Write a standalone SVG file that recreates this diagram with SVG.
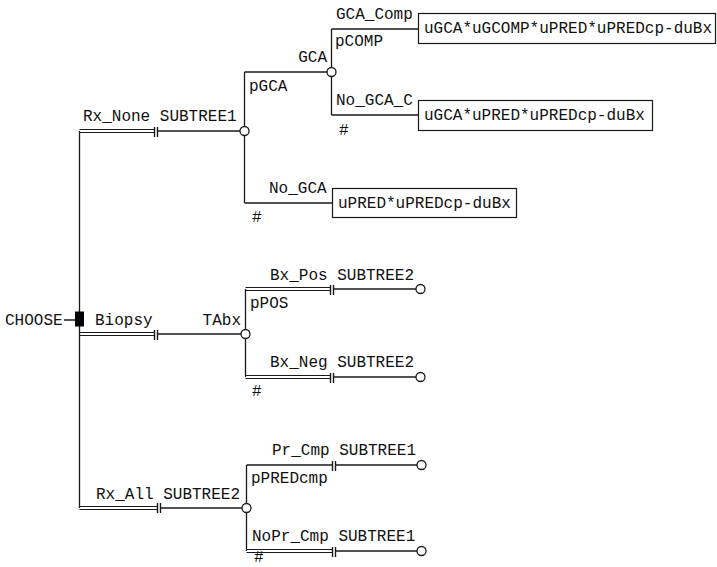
<svg xmlns="http://www.w3.org/2000/svg" width="717" height="567" viewBox="0 0 717 567">
<style>
text{font-family:"Liberation Mono","Courier New",monospace;font-size:16px;fill:#111}
.ln{stroke:#1a1a1a;stroke-width:1.3;fill:none}
.dbl{stroke:#1a1a1a;stroke-width:1;fill:none}
.hash{stroke:#1a1a1a;stroke-width:1.4;fill:none}
.chance{fill:#fff;stroke:#1a1a1a;stroke-width:1.3}
.box{fill:#fff;stroke:#1a1a1a;stroke-width:1.2}
</style>
<rect width="717" height="567" fill="#fff"/>
<g id="connectors">
  <path class="ln" d="M64 320H75 M79.5 131V508"/>
  <path class="dbl" d="M79.5 129.5H154 M79.5 132.5H154"/>
  <path class="hash" d="M154.5 127V137 M157.5 127V137"/>
  <path class="ln" d="M157.5 131H240"/>
  <path class="dbl" d="M79.5 332.5H154 M79.5 335.5H154"/>
  <path class="hash" d="M154.5 330V340 M157.5 330V340"/>
  <path class="ln" d="M157.5 334H241"/>
  <path class="dbl" d="M79.5 506.5H157 M79.5 509.5H157"/>
  <path class="hash" d="M157.5 503V513 M160.5 503V513"/>
  <path class="ln" d="M160.5 508H242"/>
  <path class="ln" d="M244.5 72V203 M244.5 72H327 M244.5 203H332"/>
  <path class="ln" d="M331.5 29V115 M331.5 29H418 M331.5 115H418"/>
  <path class="ln" d="M245.5 289V377"/>
  <path class="dbl" d="M245.5 287.5H330 M245.5 290.5H330"/>
  <path class="hash" d="M330.5 285V295 M333.5 285V295"/>
  <path class="ln" d="M333.5 289H416"/>
  <path class="dbl" d="M245.5 375.5H330 M245.5 378.5H330"/>
  <path class="hash" d="M330.5 373V383 M333.5 373V383"/>
  <path class="ln" d="M333.5 377H416"/>
  <path class="ln" d="M246.5 465V551 M246.5 465H332"/>
  <path class="hash" d="M332.5 461V471 M335.5 461V471"/>
  <path class="ln" d="M335.5 465H417"/>
  <path class="dbl" d="M246.5 549.5H332 M246.5 552.5H332"/>
  <path class="hash" d="M332.5 547V557 M335.5 547V557"/>
  <path class="ln" d="M335.5 551H417"/>
</g>
<g id="root">
  <text x="5" y="325">CHOOSE</text>
  <rect x="75" y="311.5" width="9" height="15" fill="#000"/>
</g>
<g id="rx_none">
  <text x="83" y="121">Rx_None SUBTREE1</text>
  <circle class="chance" cx="244.5" cy="131" r="4.5"/>
  <text x="249" y="91">pGCA</text>
</g>
<g id="gca">
  <text x="327" y="62" text-anchor="end">GCA</text>
  <circle class="chance" cx="331.5" cy="72" r="4.5"/>
  <text x="336" y="19">GCA_Comp</text>
  <text x="335" y="46">pCOMP</text>
  <text x="336" y="105">No_GCA_C</text>
  <text x="339" y="135">#</text>
</g>
<g id="term_gca_comp">
  <rect class="box" x="418.5" y="13.5" width="297" height="30"/>
  <text x="424" y="33">uGCA*uGCOMP*uPRED*uPREDcp-duBx</text>
</g>
<g id="term_no_gca_c">
  <rect class="box" x="418.5" y="100.5" width="234" height="30"/>
  <text x="424" y="120">uGCA*uPRED*uPREDcp-duBx</text>
</g>
<g id="no_gca">
  <text x="269" y="193">No_GCA</text>
  <text x="252" y="222">#</text>
  <rect class="box" x="332.5" y="188.5" width="184" height="29"/>
  <text x="338" y="208">uPRED*uPREDcp-duBx</text>
</g>
<g id="biopsy">
  <text x="95" y="325">Biopsy</text>
  <text x="241" y="325" text-anchor="end">TAbx</text>
  <circle class="chance" cx="245.5" cy="334" r="4.5"/>
  <text x="250" y="308">pPOS</text>
</g>
<g id="bx_pos">
  <text x="270" y="280">Bx_Pos SUBTREE2</text>
  <circle class="chance" cx="420.5" cy="289" r="4.5"/>
</g>
<g id="bx_neg">
  <text x="270" y="367">Bx_Neg SUBTREE2</text>
  <text x="252" y="396">#</text>
  <circle class="chance" cx="420.5" cy="377" r="4.5"/>
</g>
<g id="rx_all">
  <text x="96" y="499">Rx_All SUBTREE2</text>
  <circle class="chance" cx="246.5" cy="508" r="4.5"/>
  <text x="251" y="483">pPREDcmp</text>
</g>
<g id="pr_cmp">
  <text x="272" y="455">Pr_Cmp SUBTREE1</text>
  <circle class="chance" cx="421.5" cy="465" r="4.5"/>
</g>
<g id="nopr_cmp">
  <text x="252" y="541">NoPr_Cmp SUBTREE1</text>
  <text x="254" y="562" font-size="14">#</text>
  <circle class="chance" cx="421.5" cy="551" r="4.5"/>
</g>
</svg>
